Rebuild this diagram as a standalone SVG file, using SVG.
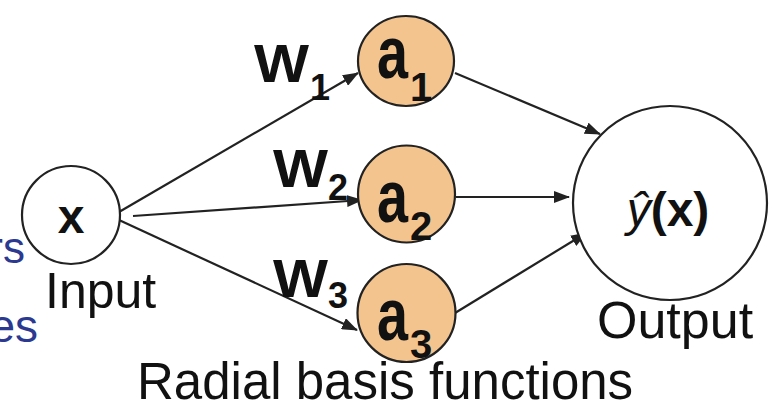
<svg xmlns="http://www.w3.org/2000/svg" width="776" height="414" viewBox="0 0 776 414">
<style>
.node{stroke:#222;stroke-width:2.2}
.rbf{fill:#f3c48e}
.plain{fill:#fff}
.edge{stroke:#222;stroke-width:2.2;fill:none;marker-end:url(#ah)}
.lbl{font-family:"Liberation Sans",Arial,sans-serif;fill:#111}
.b{font-weight:bold}
.blue{font-family:"Liberation Sans",Arial,sans-serif;fill:#2b3990}
</style>
<defs>
<marker id="ah" markerUnits="userSpaceOnUse" markerWidth="16" markerHeight="12" refX="15" refY="6" orient="auto">
<path d="M0,0 L16,6 L0,12 z" fill="#222"/>
</marker>
</defs>
<rect width="776" height="414" fill="#fff"/>
<text class="blue" x="25" y="263" font-size="44" text-anchor="end">rs</text>
<text class="blue" x="38" y="342" font-size="46" text-anchor="end">es</text>
<g id="connectors">
<line class="edge" x1="119" y1="212" x2="358" y2="73"/>
<line class="edge" x1="133" y1="216" x2="362" y2="200"/>
<line class="edge" x1="119" y1="220" x2="357" y2="330"/>
<line class="edge" x1="455" y1="73" x2="600" y2="134"/>
<line class="edge" x1="456" y1="197" x2="569" y2="197"/>
<line class="edge" x1="455" y1="313" x2="586" y2="233"/>
</g>
<g id="input">
<circle class="node plain" cx="71" cy="215" r="49"/>
<text class="lbl b" x="71" y="233" font-size="48" text-anchor="middle">x</text>
<text class="lbl" x="45" y="308" font-size="50">Input</text>
</g>
<g id="a1">
<ellipse class="node rbf" cx="406" cy="61" rx="48" ry="45"/>
<text class="lbl b" x="377" y="78" font-size="74" textLength="31" lengthAdjust="spacingAndGlyphs">a</text>
<text class="lbl b" x="410" y="101" font-size="40">1</text>
</g>
<g id="a2">
<circle class="node rbf" cx="406.5" cy="194" r="48.5"/>
<text class="lbl b" x="377" y="222" font-size="74" textLength="31" lengthAdjust="spacingAndGlyphs">a</text>
<text class="lbl b" x="410" y="240" font-size="40">2</text>
</g>
<g id="a3">
<circle class="node rbf" cx="406.5" cy="313" r="49"/>
<text class="lbl b" x="377" y="340" font-size="74" textLength="31" lengthAdjust="spacingAndGlyphs">a</text>
<text class="lbl b" x="410" y="358" font-size="40">3</text>
</g>
<g id="output">
<circle class="node plain" cx="670" cy="203" r="97"/>
<text class="lbl" x="668" y="226" font-size="48" text-anchor="middle"><tspan font-style="italic">ŷ</tspan><tspan class="b">(x)</tspan></text>
<text class="lbl" x="597" y="338" font-size="52">Output</text>
</g>
<g id="weights">
<text class="lbl b" x="254" y="82" font-size="54" textLength="55" lengthAdjust="spacingAndGlyphs">W</text>
<text class="lbl b" x="310" y="100" font-size="36">1</text>
<text class="lbl b" x="273" y="187" font-size="54" textLength="55" lengthAdjust="spacingAndGlyphs">W</text>
<text class="lbl b" x="328" y="200" font-size="36">2</text>
<text class="lbl b" x="273" y="297" font-size="54" textLength="55" lengthAdjust="spacingAndGlyphs">W</text>
<text class="lbl b" x="328" y="308" font-size="36">3</text>
</g>
<text class="lbl" x="137" y="399" font-size="51">Radial basis functions</text>
</svg>
